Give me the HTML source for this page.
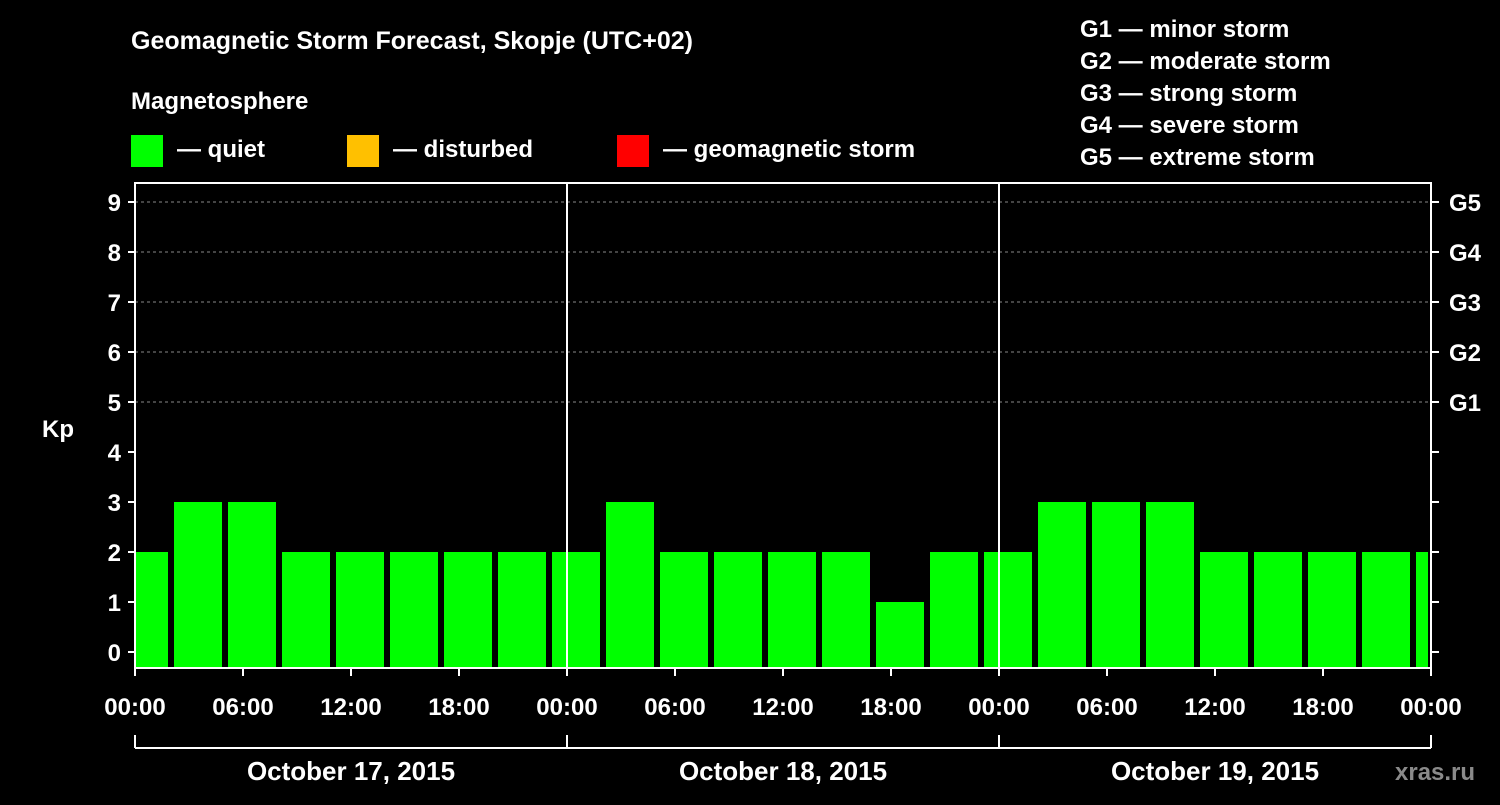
<!DOCTYPE html>
<html><head><meta charset="utf-8"><style>
body{margin:0;background:#000;width:1500px;height:800px;overflow:hidden}
svg text{font-family:"Liberation Sans",Arial,sans-serif;font-weight:bold;fill:#fff}
</style></head><body>
<svg id="chart" width="1500" height="800" xmlns="http://www.w3.org/2000/svg">
<rect width="1500" height="800" fill="#000"/>
<text x="131" y="49" font-size="25">Geomagnetic Storm Forecast, Skopje (UTC+02)</text>
<text x="131" y="109" font-size="24">Magnetosphere</text>
<g><rect x="131" y="135" width="32" height="32" fill="#00ff00"/><text x="177" y="157" font-size="24">— quiet</text></g>
<g><rect x="347" y="135" width="32" height="32" fill="#ffc000"/><text x="393" y="157" font-size="24">— disturbed</text></g>
<g><rect x="617" y="135" width="32" height="32" fill="#ff0000"/><text x="663" y="157" font-size="24">— geomagnetic storm</text></g>
<g font-size="24">
<text x="1080" y="37">G1 — minor storm</text>
<text x="1080" y="69">G2 — moderate storm</text>
<text x="1080" y="101">G3 — strong storm</text>
<text x="1080" y="133">G4 — severe storm</text>
<text x="1080" y="165">G5 — extreme storm</text>
</g>
<text x="42" y="437" font-size="24">Kp</text>
<text x="1395" y="780" font-size="24" fill="#888" style="fill:#8a8a8a">xras.ru</text>
<g id="grid"></g><g id="bars"></g><g id="axes"></g>
</svg>
<script>
const kpValues=[2,3,3,2,2,2,2,2,2,3,2,2,2,2,1,2,2,3,3,3,2,2,2,2,2];
const yTicks=[0,1,2,3,4,5,6,7,8,9];
const gLabels=["G1","G2","G3","G4","G5"];
const xTickLabels=["00:00","06:00","12:00","18:00","00:00","06:00","12:00","18:00","00:00","06:00","12:00","18:00","00:00"];
const dayLabels=["October 17, 2015","October 18, 2015","October 19, 2015"];
const X0=135,X1=1431,YT=183,YB=668,HOURS=72;
const x=h=>X0+(X1-X0)*h/HOURS;
const y=k=>652-50*k;
const NS="http://www.w3.org/2000/svg";
function mk(p,t,a){const e=document.createElementNS(NS,t);for(const k in a)e.setAttribute(k,a[k]);document.getElementById(p).appendChild(e);return e;}
function color(k){return k>=5?"#ff0000":k>=4?"#ffc000":"#00ff00";}
yTicks.forEach(k=>{if(k>=5){const l=mk("grid","line",{x1:X0,x2:X1,y1:y(k),y2:y(k),stroke:"#888","stroke-dasharray":"3,3","stroke-width":1});

}});
kpValues.forEach((v,i)=>{const s=Math.max(x(-1+3*i)+3,X0+1),e=Math.min(x(-1+3*i+3)-3,X1-3);
const r=mk("bars","rect",{x:s,y:y(v),width:e-s,height:YB-y(v),fill:color(v)});

});
const f=mk("axes","rect",{x:X0,y:YT,width:X1-X0,height:YB-YT,fill:"none",stroke:"#fff","stroke-width":2});


[1,2].forEach(d=>{const l=mk("axes","line",{x1:x(24*d),x2:x(24*d),y1:YT,y2:YB,stroke:"#fff","stroke-width":2});

});
yTicks.forEach(k=>{mk("axes","line",{x1:X0-7,x2:X0,y1:y(k),y2:y(k),stroke:"#fff","stroke-width":2});
mk("axes","line",{x1:X1,x2:X1+8,y1:y(k),y2:y(k),stroke:"#fff","stroke-width":2});
const t=mk("axes","text",{x:X0-14,y:y(k)+9,"font-size":24,"text-anchor":"end"});t.textContent=k;

});
gLabels.forEach((g,i)=>{const t=mk("axes","text",{x:1449,y:y(5+i)+9,"font-size":24});t.textContent=g;

});
xTickLabels.forEach((s,i)=>{const xx=x(6*i);mk("axes","line",{x1:xx,x2:xx,y1:YB,y2:YB+8,stroke:"#fff","stroke-width":2});
const t=mk("axes","text",{x:xx,y:715,"font-size":24,"text-anchor":"middle"});t.textContent=s;

});
mk("axes","line",{x1:X0,x2:X1,y1:748,y2:748,stroke:"#fff","stroke-width":2});
[0,1,2,3].forEach(d=>mk("axes","line",{x1:x(24*d),x2:x(24*d),y1:735,y2:748,stroke:"#fff","stroke-width":2}));
dayLabels.forEach((s,i)=>{const t=mk("axes","text",{x:x(24*i+12),y:780,"font-size":26,"text-anchor":"middle"});t.textContent=s;

});
</script>
</body></html>
